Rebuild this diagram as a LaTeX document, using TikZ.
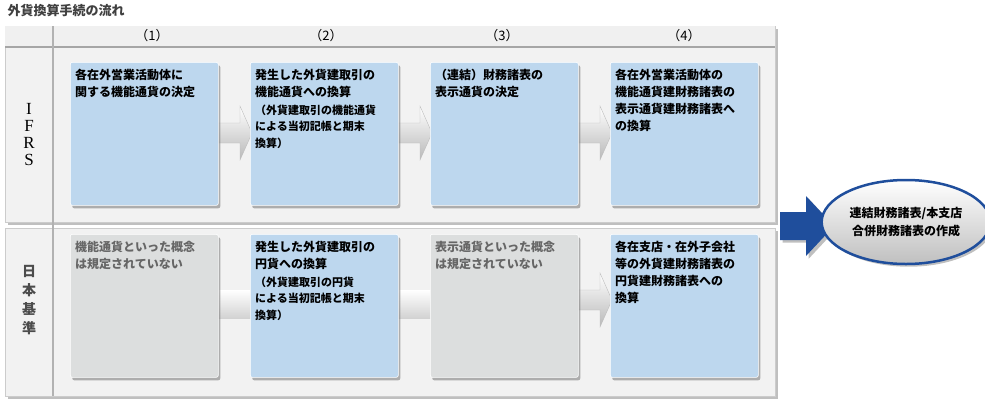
\documentclass[tikz,border=0pt]{standalone}
\usepackage{fontspec}
\setmainfont{Noto Sans CJK JP}
\newfontfamily\serifrm{Liberation Serif}
\usetikzlibrary{shadows,shapes.geometric}
\definecolor{bluebox}{HTML}{BDD7EE}
\definecolor{graybox}{HTML}{DCDEDE}
\definecolor{frame}{HTML}{F2F2F2}
\definecolor{navy}{HTML}{1F4E9C}
\begin{document}
\begin{tikzpicture}[x=1pt,y=-1pt,
  box/.style={draw=white,line width=0.6pt,rounded corners=2pt,minimum width=148pt,minimum height=143pt,anchor=north west,inner sep=6pt,
     drop shadow={shadow xshift=2pt,shadow yshift=-3pt,opacity=0.6}},
  txt/.style={anchor=north west,align=left,font=\bfseries\fontsize{12}{17}\selectfont,text width=140pt,inner xsep=5pt,inner ysep=7pt},
  chev/.style={draw=gray!50,top color=white,bottom color=gray!55},
  bar/.style={top color=white,bottom color=gray!35}]
\useasboundingbox (0,0) rectangle (985,400);
\node[anchor=west,font=\bfseries\fontsize{13}{15}\selectfont,text=black!75] (title) at (4,11) {外貨換算手続の流れ};
% frames
\fill[frame,draw=gray!40,drop shadow] (5,26) rectangle (775,222);
\fill[frame,draw=gray!40,drop shadow] (5,228) rectangle (775,396);
\fill[gray!12] (5,26) rectangle (775,46);
\draw[gray!70,line width=2pt] (5,47) -- (775,47);
\draw[gray!60,line width=1.5pt] (53,26) -- (53,396);
\foreach \x/\l in {152/（1）,326/（2）,502/（3）,684/（4）}
  \node[font=\fontsize{13}{15}\selectfont] at (\x,36) {\l};
\node[font=\serifrm\fontsize{17}{17}\selectfont,align=center] (ifrs) at (29,135) {I\\F\\R\\S};
\node[font=\bfseries\fontsize{14}{19}\selectfont,align=center,text=black!70] (jp) at (29,300) {日\\本\\基\\準};
% arrows IFRS
\foreach \x in {218,398,578}
  \path[chev] (\x,123) -- (\x+22,123) -- (\x+22,106) -- (\x+34,133) -- (\x+22,160) -- (\x+22,143) -- (\x,143) -- cycle;
% Japan
\fill[bar] (218,290) rectangle (252,318);
\fill[bar] (397,290) rectangle (432,318);
\path[chev] (578,290) -- (600,290) -- (600,273) -- (612,300) -- (600,327) -- (600,310) -- (578,310) -- cycle;
% boxes IFRS
\node[box,fill=bluebox] (a1) at (70,62) {}; \node[txt] at (a1.north west) {各在外営業活動体に\\関する機能通貨の決定};
\node[box,fill=bluebox] (a2) at (250,62) {}; \node[txt] at (a2.north west) {発生した外貨建取引の\\機能通貨への換算\\[2pt]\fontsize{11}{16}\selectfont （外貨建取引の機能通貨\\による当初記帳と期末\\換算）};
\node[box,fill=bluebox] (a3) at (430,62) {}; \node[txt] at (a3.north west) {（連結）財務諸表の\\表示通貨の決定};
\node[box,fill=bluebox] (a4) at (610,62) {}; \node[txt] at (a4.north west) {各在外営業活動体の\\機能通貨建財務諸表の\\表示通貨建財務諸表へ\\の換算};
% boxes JP
\node[box,fill=graybox] (b1) at (70,234) {}; \node[txt,text=black!60] at (b1.north west) {機能通貨といった概念\\は規定されていない};
\node[box,fill=bluebox] (b2) at (250,234) {}; \node[txt] at (b2.north west) {発生した外貨建取引の\\円貨への換算\\[2pt]\fontsize{11}{16}\selectfont （外貨建取引の円貨\\による当初記帳と期末\\換算）};
\node[box,fill=graybox] (b3) at (430,234) {}; \node[txt,text=black!60] at (b3.north west) {表示通貨といった概念\\は規定されていない};
\node[box,fill=bluebox] (b4) at (610,234) {}; \node[txt] at (b4.north west) {各在支店・在外子会社\\等の外貨建財務諸表の\\円貨建財務諸表への\\換算};
% result
\fill[navy,drop shadow] (780,212) -- (806,212) -- (806,196) -- (834,226) -- (806,256) -- (806,240) -- (780,240) -- cycle;
\node[ellipse,draw=navy,line width=2.5pt,top color=white,bottom color=gray!50,minimum width=150pt,minimum height=84pt,drop shadow,align=center,font=\bfseries\fontsize{12}{18}\selectfont] (res) at (906,222) {連結財務諸表/本支店\\合併財務諸表の作成};
\end{tikzpicture}
\end{document}
